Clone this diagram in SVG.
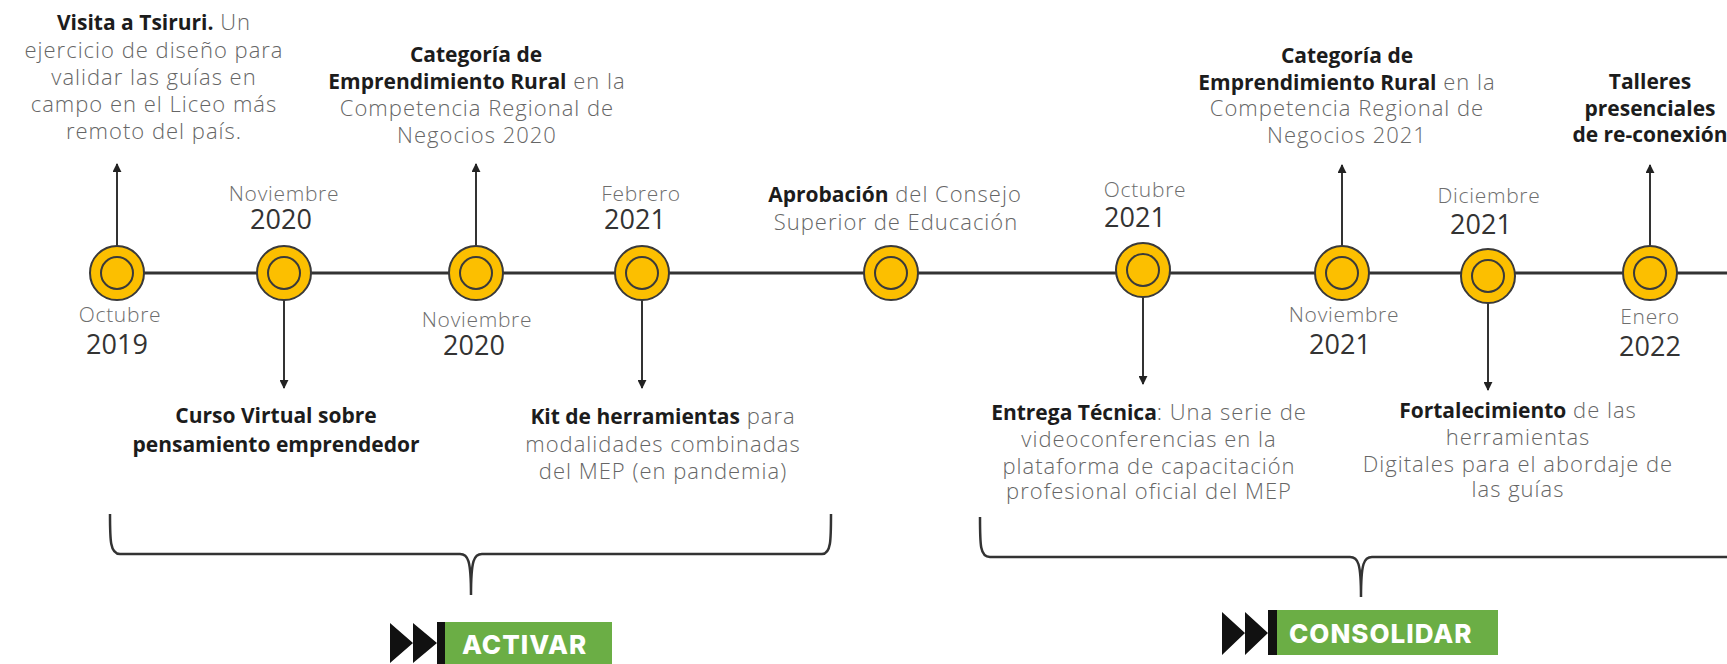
<svg xmlns="http://www.w3.org/2000/svg" width="1727" height="664" viewBox="0 0 1727 664">
<style>
.t{font-family:"Open Sans","Noto Sans",sans-serif;font-size:22px;font-weight:300;letter-spacing:1px;fill:#666;text-anchor:middle}
.b{font-weight:700;font-size:21px;letter-spacing:0;fill:#1c1c1c}
.m{font-family:"Open Sans","Noto Sans",sans-serif;font-size:21px;font-weight:300;letter-spacing:0.7px;fill:#6e6e6e;text-anchor:middle}
.y{font-family:"Open Sans","Noto Sans",sans-serif;font-size:27px;fill:#333;text-anchor:middle;font-weight:400}
.dot{fill:#FCBF00;stroke:#3a3a3a;stroke-width:2}
.ring{fill:none;stroke:#3a3a3a;stroke-width:2}
.con{stroke:#333;stroke-width:2;fill:none}
.brace{stroke:#333;stroke-width:2.5;fill:none}
.badge{fill:#6BAE45}
.bt{font-family:Inter,"Liberation Sans",sans-serif;font-weight:800;font-size:26px;fill:#fff;letter-spacing:1px}
</style>
<defs>
<marker id="ah" viewBox="0 0 10 10" refX="9" refY="5" markerWidth="9" markerHeight="9" markerUnits="userSpaceOnUse" orient="auto">
<path d="M0,0 L10,5 L0,10 z" fill="#222"/>
</marker>
</defs>
<g id="axis"><line x1="117" y1="273" x2="1727" y2="273" stroke="#333" stroke-width="3"/></g>
<g id="connectors">
<line class="con" x1="117" y1="246" x2="117" y2="164" marker-end="url(#ah)"/>
<line class="con" x1="284" y1="300" x2="284" y2="388" marker-end="url(#ah)"/>
<line class="con" x1="476" y1="246" x2="476" y2="164" marker-end="url(#ah)"/>
<line class="con" x1="642" y1="300" x2="642" y2="388" marker-end="url(#ah)"/>
<line class="con" x1="1143" y1="297" x2="1143" y2="384" marker-end="url(#ah)"/>
<line class="con" x1="1342" y1="246" x2="1342" y2="165" marker-end="url(#ah)"/>
<line class="con" x1="1488" y1="303" x2="1488" y2="390" marker-end="url(#ah)"/>
<line class="con" x1="1650" y1="246" x2="1650" y2="165" marker-end="url(#ah)"/>
</g>
<g id="n1"><circle class="dot" cx="117" cy="273" r="27"/><circle class="ring" cx="117" cy="273" r="16"/>
<text class="m" x="120" y="322">Octubre</text><text class="y" x="117" y="354">2019</text>
<text class="t" x="154" y="30"><tspan class="b">Visita a Tsiruri.</tspan> Un</text>
<text class="t" x="154" y="58">ejercicio de diseño para</text>
<text class="t" x="154" y="85">validar las guías en</text>
<text class="t" x="154" y="112">campo en el Liceo más</text>
<text class="t" x="154" y="139">remoto del país.</text></g>
<g id="n2"><circle class="dot" cx="284" cy="273" r="27"/><circle class="ring" cx="284" cy="273" r="16"/>
<text class="m" x="284" y="201">Noviembre</text><text class="y" x="281" y="229">2020</text>
<text class="t b" x="276" y="423">Curso Virtual sobre</text>
<text class="t b" x="276" y="452">pensamiento emprendedor</text></g>
<g id="n3"><circle class="dot" cx="476" cy="273" r="27"/><circle class="ring" cx="476" cy="273" r="16"/>
<text class="m" x="477" y="327">Noviembre</text><text class="y" x="474" y="355">2020</text>
<text class="t b" x="476" y="62">Categoría de</text>
<text class="t" x="477" y="89"><tspan class="b">Emprendimiento Rural</tspan> en la</text>
<text class="t" x="477" y="116">Competencia Regional de</text>
<text class="t" x="477" y="143">Negocios 2020</text></g>
<g id="n4"><circle class="dot" cx="642" cy="273" r="27"/><circle class="ring" cx="642" cy="273" r="16"/>
<text class="m" x="641" y="201">Febrero</text><text class="y" x="635" y="229">2021</text>
<text class="t" x="663" y="424"><tspan class="b">Kit de herramientas</tspan> para</text>
<text class="t" x="663" y="452">modalidades combinadas</text>
<text class="t" x="663" y="479">del MEP (en pandemia)</text></g>
<g id="n5"><circle class="dot" cx="891" cy="273" r="27"/><circle class="ring" cx="891" cy="273" r="16"/>
<text class="t" x="895" y="202"><tspan class="b">Aprobación</tspan>  del Consejo</text>
<text class="t" x="896" y="230">Superior de Educación</text></g>
<g id="n6"><circle class="dot" cx="1143" cy="270" r="27"/><circle class="ring" cx="1143" cy="270" r="16"/>
<text class="m" x="1145" y="197">Octubre</text><text class="y" x="1135" y="227">2021</text>
<text class="t" x="1149" y="420"><tspan class="b">Entrega Técnica</tspan>: Una serie de</text>
<text class="t" x="1149" y="447">videoconferencias en la</text>
<text class="t" x="1149" y="474">plataforma de capacitación</text>
<text class="t" x="1149" y="499">profesional oficial del MEP</text></g>
<g id="n7"><circle class="dot" cx="1342" cy="273" r="27"/><circle class="ring" cx="1342" cy="273" r="16"/>
<text class="m" x="1344" y="322">Noviembre</text><text class="y" x="1340" y="354">2021</text>
<text class="t b" x="1347" y="63">Categoría de</text>
<text class="t" x="1347" y="90"><tspan class="b">Emprendimiento Rural</tspan> en la</text>
<text class="t" x="1347" y="116">Competencia Regional de</text>
<text class="t" x="1347" y="143">Negocios 2021</text></g>
<g id="n8"><circle class="dot" cx="1488" cy="276" r="27"/><circle class="ring" cx="1488" cy="276" r="16"/>
<text class="m" x="1489" y="203">Diciembre</text><text class="y" x="1481" y="234">2021</text>
<text class="t" x="1518" y="418"><tspan class="b">Fortalecimiento</tspan> de las</text>
<text class="t" x="1518" y="445">herramientas</text>
<text class="t" x="1518" y="472">Digitales para el abordaje de</text>
<text class="t" x="1518" y="497">las guías</text></g>
<g id="n9"><circle class="dot" cx="1650" cy="273" r="27"/><circle class="ring" cx="1650" cy="273" r="16"/>
<text class="m" x="1650" y="324">Enero</text><text class="y" x="1650" y="356">2022</text>
<text class="t b" x="1650" y="89">Talleres</text>
<text class="t b" x="1650" y="116">presenciales</text>
<text class="t b" x="1650" y="142">de re-conexión</text></g>
<g id="braces">
<path class="brace" d="M110,514 C110,540 110,554 120,554 L460,554 C468,554 471,560 471,595 C471,560 474,554 482,554 L822,554 C831,554 831,540 831,514"/>
<path class="brace" d="M980,517 C980,545 980,557 990,557 L1350,557 C1358,557 1361,563 1361,597 C1361,563 1364,557 1372,557 L1727,557"/>
</g>
<g id="activar">
<path d="M390,623 L413,643 L390,663 z M413,623 L437,643 L413,663 z" fill="#111"/>
<rect x="437" y="622" width="8" height="42" fill="#111"/>
<rect class="badge" x="445" y="622" width="167" height="46"/>
<text class="bt" x="462" y="654">ACTIVAR</text>
</g>
<g id="consolidar">
<path d="M1222,612 L1245,633 L1222,655 z M1245,612 L1268,633 L1245,655 z" fill="#111"/>
<rect x="1268" y="610" width="9" height="45" fill="#111"/>
<rect class="badge" x="1277" y="610" width="221" height="45"/>
<text class="bt" x="1289" y="643">CONSOLIDAR</text>
</g>
</svg>
